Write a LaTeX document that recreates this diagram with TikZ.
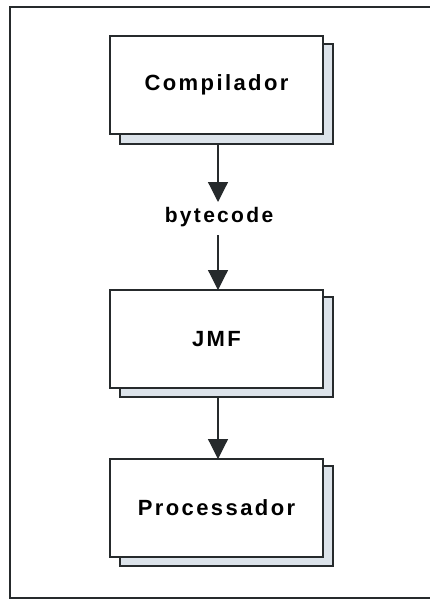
\documentclass[tikz,border=0pt]{standalone}
\usepackage{fontspec}
\setmainfont{Liberation Sans}[LetterSpace=11]
\usetikzlibrary{arrows.meta}
\definecolor{shadowfill}{HTML}{DCE3EA}
\definecolor{linecol}{HTML}{262A2C}
\begin{document}
\begin{tikzpicture}[x=1pt,y=-1pt,
  front/.style={draw=linecol,line width=1.6pt,fill=white,minimum width=213pt,minimum height=98pt,inner sep=0pt,font=\bfseries\fontsize{22}{26}\selectfont},
  back/.style={draw=linecol,line width=1.6pt,fill=shadowfill,minimum width=213pt,minimum height=100pt,inner sep=0pt},
  conn/.style={draw=linecol,line width=1.2pt,-{Triangle[width=20pt,length=20pt]}},
  lbl/.style={font=\bfseries\fontsize{21}{25}\selectfont,inner sep=0pt}]
\useasboundingbox (0,0) rectangle (430,604);
\fill[white] (0,0) rectangle (430,604);
% outer frame (right side runs off the picture)
\draw[linecol,line width=2.2pt] (440,7) -- (10,7) -- (10,598) -- (440,598);
% Compilador
\node[back] (s1) at (226.5,94) {};
\node[front] (b1) at (216.5,85) {Compilador};
% JMF
\node[back] (s2) at (226.5,347) {};
\node[front] (b2) at (216.5,339) {JMF};
% Processador
\node[back] (s3) at (226.5,516) {};
\node[front] (b3) at (216.5,508) {Processador};
% label
\node[lbl] (bc) at (219,217) {bytecode};
\coordinate (a1s) at (218,144);
\coordinate (a1e) at (218,202);
\coordinate (a2s) at (218,235);
\coordinate (a2e) at (218,290);
\coordinate (a3s) at (218,397);
\coordinate (a3e) at (218,459);
\draw[conn] (a1s) -- (a1e);
\draw[conn] (a2s) -- (a2e);
\draw[conn] (a3s) -- (a3e);
\end{tikzpicture}
\end{document}
